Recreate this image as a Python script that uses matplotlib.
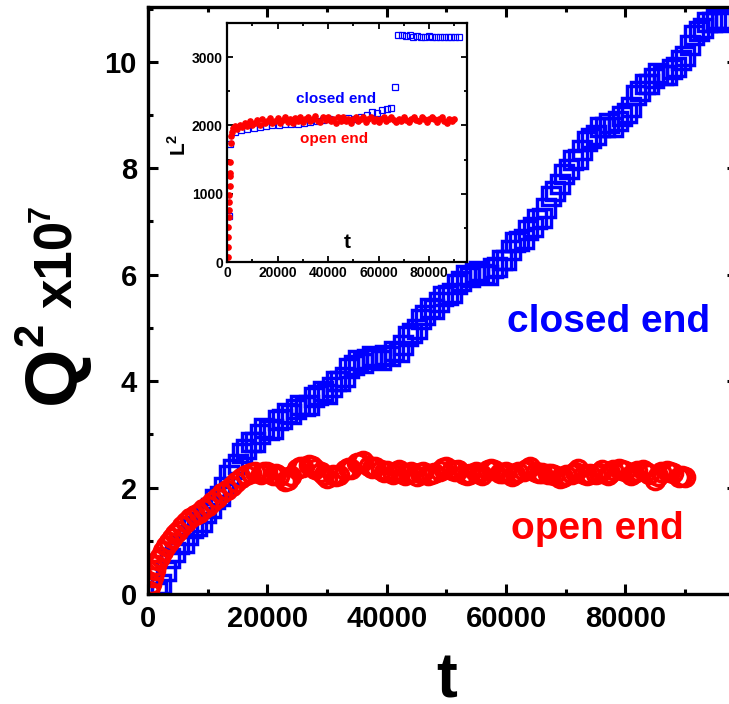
import matplotlib
matplotlib.use("Agg")
import matplotlib.pyplot as plt
from matplotlib.ticker import MultipleLocator

plt.rcParams['font.family'] = ['Liberation Sans', 'DejaVu Sans']
plt.rcParams['font.weight'] = 'bold'
plt.rcParams['mathtext.fontset'] = 'custom'
plt.rcParams['mathtext.rm'] = 'Liberation Sans:bold'
plt.rcParams['mathtext.bf'] = 'Liberation Sans:bold'

# main plot: open end (red circles)
t_open = [200, 500, 800, 1100, 1400, 1700, 2000, 2500, 3000, 3500, 4000, 4500, 5000,
          5700, 6400, 7100, 7800, 8500, 9200, 10000, 10800, 11600, 12400, 13200,
          14000, 14800, 15600, 16400, 17200, 18000, 19000, 20000, 21000, 22000,
          23000, 24000, 25000, 26000, 27000, 28000, 29000, 30000, 31000, 32000,
          33000, 34000, 35000, 36000, 37000, 38000, 39000, 40000, 41000, 42000,
          43000, 44000, 45000, 46000, 47000, 48000, 49000, 50000, 51000, 52000,
          53000, 54000, 55000, 56000, 57000, 58000, 59000, 60000, 61000, 62000,
          63000, 64000, 65000, 66000, 67000, 68000, 69000, 70000, 71000, 72000,
          73000, 74000, 75000, 76000, 77000, 78000, 79000, 80000, 81000, 82000,
          83000, 84000, 85000, 86000, 87000, 88000, 89000, 90000,
          19500, 21500, 23500, 25500, 27500, 29500, 31500, 33500, 35500, 37500,
          39500, 41500, 43500, 45500, 47500, 49500, 51500, 53500, 55500, 57500,
          59500, 61500, 63500, 65500, 67500, 69500, 71500, 73500, 75500, 77500,
          79500, 81500, 83500, 85500, 87500, 89500]
q_open = [0.05, 0.18, 0.32, 0.45, 0.55, 0.63, 0.70, 0.80, 0.90, 0.98, 1.05, 1.12, 1.19,
          1.27, 1.36, 1.43, 1.49, 1.53, 1.59, 1.65, 1.72, 1.81, 1.89, 1.96,
          2.03, 2.10, 2.17, 2.23, 2.27, 2.30, 2.25, 2.30, 2.24, 2.22,
          2.12, 2.22, 2.35, 2.38, 2.43, 2.34, 2.30, 2.18, 2.24, 2.24,
          2.33, 2.35, 2.46, 2.49, 2.40, 2.38, 2.32, 2.31, 2.25, 2.33,
          2.24, 2.29, 2.22, 2.30, 2.23, 2.28, 2.31, 2.39, 2.33, 2.32,
          2.26, 2.25, 2.29, 2.23, 2.32, 2.33, 2.28, 2.29, 2.22, 2.30,
          2.31, 2.38, 2.29, 2.28, 2.26, 2.24, 2.17, 2.24, 2.26, 2.34,
          2.25, 2.26, 2.25, 2.32, 2.24, 2.32, 2.34, 2.31, 2.23, 2.31,
          2.33, 2.26, 2.14, 2.30, 2.31, 2.28, 2.20, 2.20,
          2.29, 2.25, 2.15, 2.38, 2.40, 2.23, 2.22, 2.36, 2.46, 2.37,
          2.30, 2.30, 2.27, 2.27, 2.26, 2.36, 2.31, 2.24, 2.27, 2.34,
          2.27, 2.25, 2.35, 2.27, 2.25, 2.20, 2.30, 2.24, 2.28, 2.28,
          2.33, 2.27, 2.30, 2.22, 2.30, 2.21]

# main plot: closed end (blue squares)
t_closed = [1500, 2250, 3000, 3750, 4500, 5250, 6000, 6750,
            7500, 8250, 9000, 9750, 10500, 11250, 12000, 12750,
            13500, 14250, 15000, 15750, 16500, 17250, 18000, 18750,
            19500, 20250, 21000, 21750, 22500, 23250, 24000, 24750,
            25500, 26250, 27000, 27750, 28500, 29250, 30000, 30750,
            31500, 32250, 33000, 33750, 34500, 35250, 36000, 36750,
            37500, 38250, 39000, 39750, 40500, 41250, 42000, 42750,
            43500, 44250, 45000, 45750, 46500, 47250, 48000, 48750,
            49500, 50250, 51000, 51750, 52500, 53250, 54000, 54750,
            55500, 56250, 57000, 57750, 58500, 59250, 60000, 60750,
            61500, 62250, 63000, 63750, 64500, 65250, 66000, 66750,
            67500, 68250, 69000, 69750, 70500, 71250, 72000, 72750,
            73500, 74250, 75000, 75750, 76500, 77250, 78000, 78750,
            79500, 80250, 81000, 81750, 82500, 83250, 84000, 84750,
            85500, 86250, 87000, 87750, 88500, 89250, 90000, 90750,
            91500, 92250, 93000, 93750, 94500, 95250, 96000, 96750]
q_closed = [0.03, 0.19, 0.43, 0.68, 0.78, 0.93, 0.96, 1.11,
            1.24, 1.27, 1.35, 1.53, 1.62, 1.79, 1.84, 2.01,
            2.23, 2.34, 2.45, 2.65, 2.72, 2.85, 2.86, 3.01,
            3.12, 3.09, 3.10, 3.26, 3.29, 3.40, 3.38, 3.48,
            3.55, 3.53, 3.55, 3.71, 3.74, 3.82, 3.76, 3.89,
            4.00, 4.01, 4.07, 4.25, 4.30, 4.39, 4.34, 4.42,
            4.48, 4.43, 4.40, 4.49, 4.48, 4.56, 4.54, 4.67,
            4.84, 4.90, 4.97, 5.17, 5.24, 5.37, 5.36, 5.49,
            5.60, 5.61, 5.65, 5.82, 5.88, 5.99, 5.96, 6.03,
            6.07, 6.02, 6.00, 6.12, 6.15, 6.27, 6.28, 6.47,
            6.61, 6.63, 6.67, 6.83, 6.90, 7.05, 7.06, 7.26,
            7.47, 7.58, 7.70, 7.90, 7.99, 8.16, 8.18, 8.35,
            8.51, 8.57, 8.63, 8.77, 8.78, 8.85, 8.78, 8.88,
            8.99, 9.03, 9.15, 9.38, 9.46, 9.59, 9.58, 9.69,
            9.78, 9.75, 9.75, 9.87, 9.90, 10.04, 10.11, 10.31,
            10.50, 10.57, 10.63, 10.74, 10.74, 10.80, 10.74, 10.81]

# inset: L^2 vs t
t_in_open = [200, 300, 400, 500, 600, 700, 800, 900, 1000, 1100, 1200, 1300, 1500,
             1700, 2000, 2500, 3000, 4000, 5000, 6000, 7000, 8000, 9000, 10000,
             11000, 12000, 13000, 14000, 15000, 16000, 17000, 18000, 19000, 20000,
             21000, 22000, 23000, 24000, 25000, 26000, 27000, 28000, 29000, 30000,
             31000, 32000, 33000, 34000, 35000, 36000, 37000, 38000, 39000, 40000,
             41000, 42000, 43000, 44000, 45000, 46000, 47000, 48000, 49000, 50000,
             51000, 52000, 53000, 54000, 55000, 56000, 57000, 58000, 59000, 60000,
             61000, 62000, 63000, 64000, 65000, 66000, 67000, 68000, 69000, 70000,
             71000, 72000, 73000, 74000, 75000, 76000, 77000, 78000, 79000, 80000,
             81000, 82000, 83000, 84000, 85000, 86000, 87000, 88000, 89000, 90000]
l_in_open = [80, 225, 370, 520, 665, 765, 885, 985, 1110, 1255, 1310, 1470, 1750,
             1850, 1900, 1960, 1990, 1950, 2010, 1975, 2040, 1990, 2060, 2005,
             2040, 2080, 2010, 2090, 2040, 2060, 2110, 2030, 2070, 2110,
             2040, 2080, 2120, 2050, 2100, 2040, 2110, 2070, 2120, 2050,
             2090, 2130, 2060, 2100, 2140, 2070, 2050, 2120, 2080, 2130,
             2060, 2100, 2040, 2120, 2070, 2130, 2060, 2100, 2030, 2090,
             2120, 2060, 2100, 2130, 2050, 2090, 2120, 2060, 2100, 2050,
             2090, 2120, 2060, 2100, 2130, 2080, 2050, 2100, 2060, 2120,
             2080, 2050, 2100, 2130, 2080, 2060, 2120, 2090, 2050, 2090,
             2130, 2100, 2050, 2090, 2120, 2070, 2030, 2100, 2060, 2090]

t_in_closed = [800, 1300, 3000, 5500, 8000, 10500, 13000, 15500, 18000, 20500, 23000,
               25500, 28000, 30500, 33000, 35500, 38000, 40500, 43000, 45500, 48000,
               50500, 53000, 55500, 57500, 59500, 61500, 63500, 65000, 66500,
               67800, 69300, 70800, 72300, 73800, 75300, 76800, 78300, 79800,
               81300, 82800, 84300, 85800, 87300, 88800, 90300, 91800]
l_in_closed = [676, 1735, 1900, 1935, 1950, 1965, 1980, 1990, 2000, 2005, 2015,
               2020, 2025, 2035, 2045, 2060, 2075, 2090, 2085, 2100, 2110,
               2100, 2120, 2150, 2190, 2180, 2220, 2240, 2250, 2570,
               3330, 3320, 3310, 3320, 3300, 3310, 3290, 3300, 3310,
               3300, 3300, 3290, 3300, 3300, 3290, 3290, 3290]

fig = plt.figure(figsize=(7.29, 7.04), dpi=100)
ax = fig.add_axes([0.203, 0.1563, 0.808, 0.8338])

ax.plot(t_closed, q_closed, 's', ms=12.5, mfc='none', mec='#0000ff', mew=2.5)
ax.plot(t_open, q_open, 'o', ms=13, mfc='none', mec='#ff0000', mew=2.6)

ax.set_xlim(0, 98700)
ax.set_ylim(0, 11.03)
ax.xaxis.set_major_locator(MultipleLocator(20000))
ax.xaxis.set_minor_locator(MultipleLocator(10000))
ax.yaxis.set_major_locator(MultipleLocator(2))
ax.yaxis.set_minor_locator(MultipleLocator(1))
ax.tick_params(which='both', direction='in', top=True, right=True, width=2.2,
               labelsize=21, pad=8)
ax.tick_params(which='major', length=7.5)
ax.tick_params(which='minor', length=3.5)
for s in ax.spines.values():
    s.set_linewidth(2.4)

ax.text(((608 - 148) / 119.3) * 20000, (594 - 332) / 53.2, 'closed end',
        color='#0000ff', fontsize=28, ha='center', va='baseline')
ax.text(((597 - 148) / 119.3) * 20000, (594 - 539) / 53.2, 'open end',
        color='#ff0000', fontsize=28, ha='center', va='baseline')

# axis titles
fig.text(447 / 729, 6 / 704, 't', fontsize=45, ha='center', va='baseline')
fig.text(74 / 729, 1 - 404 / 704, 'Q', fontsize=54, rotation=90,
         rotation_mode='anchor', ha='left', va='baseline')
fig.text(43 / 729, 1 - 346 / 704, '2', fontsize=30, rotation=90,
         rotation_mode='anchor', ha='left', va='baseline')
fig.text(72 / 729, 1 - 308 / 704, 'x10', fontsize=38, rotation=90,
         rotation_mode='anchor', ha='left', va='baseline')
fig.text(50 / 729, 1 - 222 / 704, '7', fontsize=22, rotation=90,
         rotation_mode='anchor', ha='left', va='baseline')

# inset
axin = fig.add_axes([0.3114, 0.6278, 0.3292, 0.3395])
axin.plot(t_in_closed, l_in_closed, 's', ms=4.2, mfc='none', mec='#0000ff', mew=0.9)
axin.plot(t_in_open, l_in_open, 'o', ms=3.8, color='#ff0000', mec='#ff0000')
axin.set_xlim(0, 95000)
axin.set_ylim(0, 3500)
axin.xaxis.set_major_locator(MultipleLocator(20000))
axin.xaxis.set_minor_locator(MultipleLocator(10000))
axin.yaxis.set_major_locator(MultipleLocator(1000))
axin.yaxis.set_minor_locator(MultipleLocator(500))
axin.tick_params(which='both', direction='in', top=True, right=True, width=1.3,
                 labelsize=10, pad=3)
axin.tick_params(which='major', length=4)
axin.tick_params(which='minor', length=2)
for s in axin.spines.values():
    s.set_linewidth(1.6)

axin.text((336 - 227) * 395, (262 - 104) / 0.068, 'closed end', color='#0000ff',
          fontsize=11, ha='center', va='baseline')
axin.text((334 - 227) * 395, (262 - 143) / 0.068, 'open end', color='#ff0000',
          fontsize=11, ha='center', va='baseline')
axin.text((347 - 227) * 395, (262 - 248) / 0.068, 't', fontsize=15,
          ha='center', va='baseline')
fig.text(186 / 729, 1 - 156 / 704, 'L$^{2}$', fontsize=15, rotation=90,
         rotation_mode='anchor', ha='left', va='baseline')

fig.savefig('out.png', dpi=100)
